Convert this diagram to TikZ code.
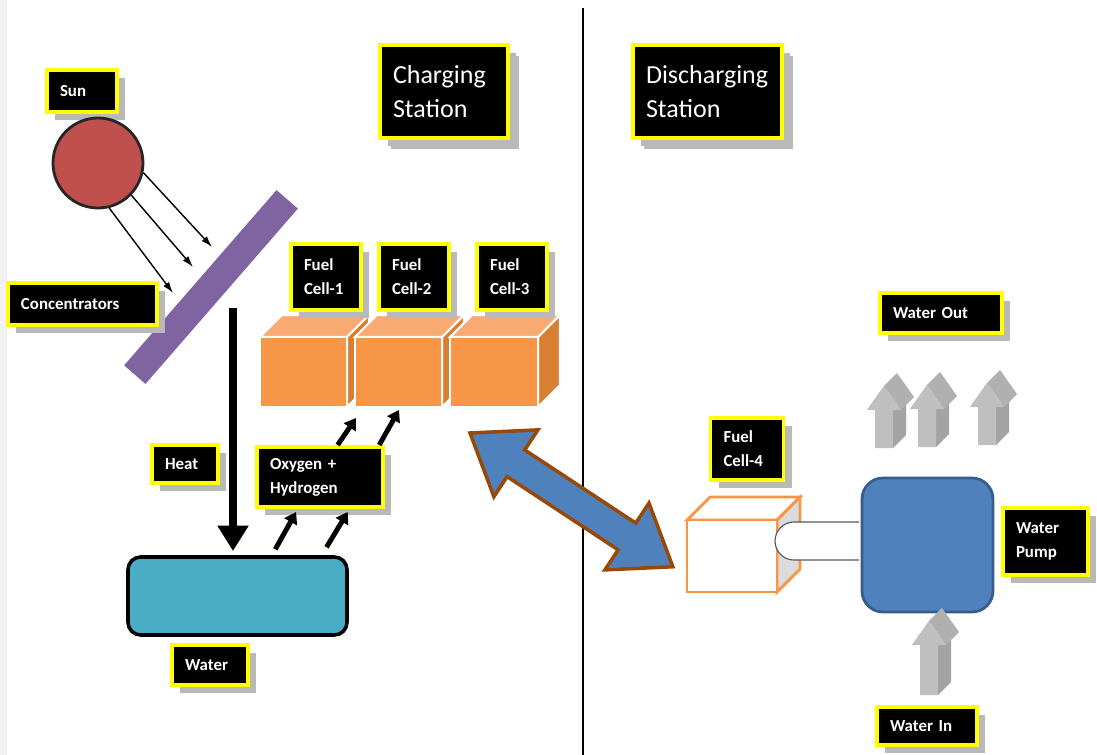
\documentclass[tikz,border=0pt]{standalone}
\usepackage{fontspec}
\setmainfont{Carlito}
\usetikzlibrary{positioning,shadows,arrows.meta,calc}
\definecolor{tagYellow}{RGB}{255,255,0}
\definecolor{sunRed}{HTML}{C0504D}
\definecolor{mirrorPurple}{HTML}{8064A2}
\definecolor{waterBlue}{HTML}{4BACC6}
\definecolor{cellOrange}{HTML}{F79646}
\definecolor{cellTopColor}{HTML}{F9AA72}
\definecolor{cellSideColor}{HTML}{D97F33}
\definecolor{pumpBlue}{HTML}{4F81BD}
\definecolor{pumpEdge}{HTML}{385D8A}
\definecolor{linkBrown}{HTML}{984807}
\tikzstyle{tagStyle} = [fill=black, draw=tagYellow, line width=2.2pt, text=white, align=left, inner xsep=0.325cm, inner ysep=2pt, outer sep=0pt, font=\bfseries\fontsize{12}{17}\selectfont, drop shadow={shadow xshift=6pt, shadow yshift=-6pt, fill=gray!55, opacity=1}]
\tikzstyle{tagHeadStyle} = [tagStyle, font=\fontsize{18.5}{24}\selectfont, drop shadow={shadow xshift=8pt, shadow yshift=-8pt, fill=gray!55, opacity=1}]
\tikzstyle{dividerLine} = [color=black, line width=0.8pt]
\tikzstyle{sunStyle} = [circle, fill=sunRed, draw=black!85, line width=2pt, inner sep=0pt]
\tikzstyle{mirrorStyle} = [rectangle, fill=mirrorPurple, draw=white, line width=1pt, inner sep=0pt]
\tikzstyle{rayArrow} = [-{Latex[length=8pt, width=5pt]}, line width=1pt]
\tikzstyle{heatArrow} = [-{Triangle[length=18pt, width=21pt]}, line width=5.5pt]
\tikzstyle{gasArrow} = [-{Triangle[length=8pt, width=10pt]}, line width=3.5pt]
\tikzstyle{tankStyle} = [rectangle, rounded corners=9pt, fill=waterBlue, draw=black, line width=2.5pt]
\tikzstyle{cellFront} = [rectangle, fill=cellOrange, draw=white, line width=1.5pt, inner sep=0pt, outer sep=0pt]
\tikzstyle{cellTop} = [fill=cellTopColor, draw=white, line width=1.5pt]
\tikzstyle{cellSide} = [fill=cellSideColor, draw=white, line width=1.5pt]
\tikzstyle{spareFront} = [rectangle, fill=white, draw=cellOrange, line width=2pt, inner sep=0pt, outer sep=0pt]
\tikzstyle{spareTop} = [fill=white, draw=cellOrange, line width=2pt]
\tikzstyle{spareSide} = [fill=gray!28, draw=cellOrange, line width=2pt]
\tikzstyle{linkStyle} = [fill=pumpBlue, draw=linkBrown, line width=2.5pt]
\tikzstyle{pumpStyle} = [rectangle, rounded corners=15pt, fill=pumpBlue, draw=pumpEdge, line width=2pt]
\tikzstyle{pipeStyle} = [fill=white, draw=black!65, line width=0.8pt]
\tikzstyle{arrowFront} = [fill=gray!50]
\tikzstyle{arrowLight} = [fill=gray!35]
\tikzstyle{arrowMid} = [fill=gray!62]
\tikzstyle{arrowDark} = [fill=gray!72]
\newcommand{\tagBox}[7][tagStyle]{
  \pgfmathsetlengthmacro{\tagWidth}{(#5-26)*0.025cm}
  \node [#1, text width=\tagWidth, minimum height=#6*0.025cm] (#2) at (#3,#4) {#7};
}
\newcommand{\cellCube}[7]{
  \filldraw [#6Top] (#2,#3) -- ++(#7,-#7) -- ++(#4,0) -- ++(-#7,#7) -- cycle;
  \filldraw [#6Side] (#2+#4,#3) -- ++(#7,-#7) -- ++(0,#5) -- ++(-#7,#7) -- cycle;
  \node [#6Front, anchor=north west, minimum width=#4*0.025cm, minimum height=#5*0.025cm] (#1) at (#2,#3) {};
}
\newcommand{\blockArrow}[3]{
  \pgfmathsetmacro{\headBase}{#2-#3}
  \pgfmathsetmacro{\apex}{#2-#3-24}
  \fill [arrowDark] (#1+9,#2) -- (#1+22,#2-13) -- (#1+22,\headBase-13) -- (#1+9,\headBase) -- cycle;
  \fill [arrowLight] (#1-17,\headBase) -- (#1,\apex) -- (#1+13,\apex-13) -- (#1-4,\headBase-13) -- cycle;
  \fill [arrowMid] (#1+17,\headBase) -- (#1,\apex) -- (#1+13,\apex-13) -- (#1+30,\headBase-13) -- cycle;
  \fill [arrowFront] (#1-9,#2) -- (#1-9,\headBase) -- (#1-17,\headBase) -- (#1,\apex) -- (#1+17,\headBase) -- (#1+9,\headBase) -- (#1+9,#2) -- cycle;
}
\begin{document}
\begin{tikzpicture}[x=0.025cm, y=-0.025cm]
\useasboundingbox (0,0) rectangle (1097,755);
\fill [gray!10] (0,0) rectangle (7,755);
\draw [dividerLine] (583,8) -- (583,755);
\tagBox[tagHeadStyle]{chargeTag}{444}{91.5}{128}{93}{Charging\\Station}
\tagBox[tagHeadStyle]{dischargeTag}{707.5}{91.5}{149}{93}{Discharging\\Station}
\tagBox{sunTag}{82}{91}{70}{42}{Sun}
\node [sunStyle, minimum size=90*0.025cm] (sun) at (98,163) {};
\node [mirrorStyle, minimum width=234*0.025cm, minimum height=30*0.025cm, rotate=49] (mirror) at (211,287) {};
\coordinate (rayEndA) at (212,247);
\coordinate (rayEndB) at (193,267);
\coordinate (rayEndC) at (173,293);
\draw [rayArrow] (sun.-12) -- (rayEndA);
\draw [rayArrow] (sun.-44) -- (rayEndB);
\draw [rayArrow] (sun.-76) -- (rayEndC);
\tagBox{concTag}{82.5}{304}{149}{42}{Concentrators}
\node [tankStyle, minimum width=219*0.025cm, minimum height=78*0.025cm] (tank) at (237.5,596) {};
\coordinate (heatTop) at (233,308);
\draw [heatArrow] (heatTop) -- ([yshift=3pt]heatTop |- tank.north);
\tagBox{heatTag}{185}{464}{66}{38}{Heat}
\tagBox{waterTag}{210}{665}{76}{40}{Water}
\cellCube{cell1}{260}{337}{87}{70}{cell}{22}
\cellCube{cell2}{355}{337}{87}{70}{cell}{22}
\cellCube{cell3}{450}{337}{88}{70}{cell}{22}
\tagBox{cellTagA}{326}{277}{70}{66}{Fuel\\Cell-1}
\tagBox{cellTagB}{414}{277}{70}{66}{Fuel\\Cell-2}
\tagBox{cellTagC}{512}{277}{70}{66}{Fuel\\Cell-3}
\tagBox{gasTag}{320}{477}{126}{60}{Oxygen +\\Hydrogen}
\draw [gasArrow] ($(tank.north west)!0.67!(tank.north east)+(0,-6)$) -- ($(gasTag.south west)!0.31!(gasTag.south east)+(0,5)$);
\draw [gasArrow] ($(tank.north west)!0.90!(tank.north east)+(0,-8)$) -- ($(gasTag.south west)!0.72!(gasTag.south east)+(0,5)$);
\draw [gasArrow] ($(gasTag.north west)!0.64!(gasTag.north east)+(0,-2)$) -- ($(cell2.south west)+(1,11)$);
\draw [gasArrow] ($(gasTag.north west)!0.97!(gasTag.north east)+(0,-2)$) -- ($(cell2.south west)+(44,3)$);
\begin{scope}[shift={(470,433)}, rotate=-33.4]
  \filldraw [linkStyle] (0,0) -- (55,40) -- (55,16) -- (188,16) -- (188,40) -- (243,0) -- (188,-40) -- (188,-16) -- (55,-16) -- (55,-40) -- cycle;
\end{scope}
\cellCube{cell4}{687}{520}{90}{72}{spare}{23}
\tagBox{cellTagD}{747}{449}{73}{62}{Fuel\\Cell-4}
\node [pumpStyle, minimum width=131*0.025cm, minimum height=134*0.025cm] (pump) at (927.5,545) {};
\coordinate (pipeTop) at (794,522);
\coordinate (pipeBottom) at (794,560);
\filldraw [pipeStyle] ([xshift=-1pt]pump.west |- pipeTop) -- (pipeTop) arc [start angle=270, end angle=90, radius=19] -- ([xshift=-1pt]pump.west |- pipeBottom);
\tagBox{pumpTag}{1045.5}{541.5}{85}{67}{Water\\Pump}
\tagBox{outTag}{941}{313}{122}{40}{Water Out}
\blockArrow{884}{448}{38}
\blockArrow{927}{447}{38}
\blockArrow{987}{445}{38}
\blockArrow{929}{695}{50}
\tagBox{inTag}{927}{726}{100}{38}{Water In}
\end{tikzpicture}
\end{document}
